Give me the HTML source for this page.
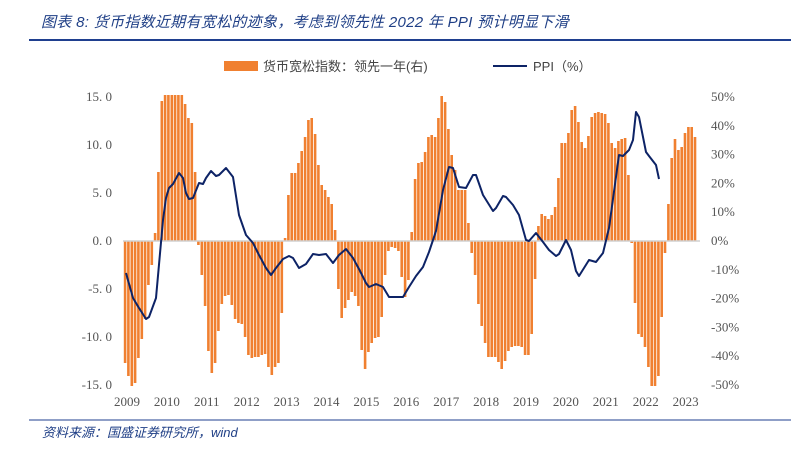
<!DOCTYPE html>
<html><head><meta charset="utf-8"><style>
body{margin:0;background:#fff;width:802px;height:451px;overflow:hidden}
svg{display:block}
</style></head><body>
<svg id="s" width="802" height="451" xmlns="http://www.w3.org/2000/svg">
<text x="41" y="27" font-family="Liberation Sans, Noto Sans CJK SC, sans-serif" font-size="15" font-style="italic" fill="#1f3f86" letter-spacing="0.3">图表 8:  货币指数近期有宽松的迹象，考虑到领先性 2022 年 PPI 预计明显下滑</text>
<rect x="29" y="39" width="762" height="2" fill="#1f3f8f"/>
<rect x="224" y="61" width="34" height="10" fill="#f08030"/>
<text x="263" y="71" font-family="Liberation Sans, Noto Sans CJK SC, sans-serif" font-size="13" fill="#444">货币宽松指数：领先一年(右)</text>
<line x1="493" y1="66" x2="527" y2="66" stroke="#0d2366" stroke-width="2"/>
<text x="533" y="71" font-family="Liberation Sans, Noto Sans CJK SC, sans-serif" font-size="13" fill="#444">PPI（%）</text>
<g id="bars" fill="#f08030"></g>
<line x1="123" y1="241" x2="700" y2="241" stroke="#d0d0d0" stroke-width="1.5"/>
<polyline id="ppi" fill="none" stroke="#0d2366" stroke-width="2" stroke-linejoin="round"/>
<g id="lab" font-family="Liberation Serif, serif" font-size="13" fill="#555"></g>
<line x1="29" y1="420" x2="791" y2="420" stroke="#1f3f8f" stroke-width="1"/>
<text x="42" y="437" font-family="Liberation Sans, Noto Sans CJK SC, sans-serif" font-size="13" font-style="italic" fill="#1f3f86">资料来源：国盛证券研究所，wind</text>
</svg>
<script>
var ys=[363,376,386,383,358,339,319,285,265,233,172,101,95,95,95,95,95,95,104,118,123,172,245,275,306,351,373,363,331,304,296,295,305,319,323,324,337,355,358,357,357,355,354,367,375,367,363,313,238,195,173,173,163,151,137,120,118,134,165,185,190,197,204,230,289,318,308,300,292,296,306,350,369,352,343,338,337,317,275,251,247,248,251,
277,297,280,232,179,163,162,152,137,135,137,118,96,102,129,155,170,190,190,190,223,253,275,304,326,343,357,357,357,362,369,361,351,347,346,346,347,355,355,334,279,226,214,216,219,215,207,178,143,143,133,110,106,122,142,148,136,117,113,112,113,114,123,143,148,141,139,138,175,243,303,334,337,347,367,386,386,376,317,253,204,158,139,150,147,133,127,127,137];
var b='';for(var i=0;i<ys.length;i++){var x=125+i*3.333,y=ys[i];var t=Math.min(y,241),h=Math.abs(y-241);b+='<rect x="'+(x-1.2).toFixed(1)+'" y="'+t+'" width="2.6" height="'+h+'"/>';}
document.getElementById('bars').innerHTML=b;
var p=[[126,273],[133,298],[139,308],[146,319],[149,317],[156,298],[163,220],[166,198],[169,188],[173,184],[179,173],[183,178],[186,193],[189,199],[193,198],[199,183],[203,184],[206,178],[211,171],[216,176],[219,175],[226,168],[233,177],[239,215],[246,235],[253,243],[259,255],[266,268],[271,275],[276,268],[283,259],[289,256],[293,258],[299,268],[306,264],[313,254],[319,255],[326,254],[333,263],[339,255],[346,249],[353,258],[359,269],[366,283],[369,287],[376,284],[383,287],[389,297],[403,297],[409,287],[416,276],[423,267],[429,252],[436,231],[443,190],[449,167],[453,168],[459,187],[466,188],[473,175],[476,175],[483,195],[493,211],[496,208],[503,196],[506,197],[513,205],[519,215],[526,240],[529,241],[536,233],[543,242],[549,250],[556,256],[559,254],[566,240],[571,250],[576,271],[579,276],[589,260],[596,262],[603,253],[609,228],[619,155],[623,156],[629,150],[633,140],[636,112],[639,117],[646,152],[649,156],[656,165],[659,179]];
document.getElementById('ppi').setAttribute('points',p.map(function(a){return a.join(',')}).join(' '));
var l='';var L=['15. 0','10. 0','5. 0','0. 0','-5. 0','-10. 0','-15. 0'];var R=['50%','40%','30%','20%','10%','0%','-10%','-20%','-30%','-40%','-50%'];
for(var i=0;i<7;i++)l+='<text x="112" y="'+(101+i*48)+'" text-anchor="end">'+L[i]+'</text>';
for(var i=0;i<11;i++)l+='<text x="711" y="'+(101+i*28.8).toFixed(1)+'">'+R[i]+'</text>';
for(var i=0;i<15;i++)l+='<text x="'+(127+i*39.9).toFixed(1)+'" y="406" text-anchor="middle">'+(2009+i)+'</text>';
document.getElementById('lab').innerHTML=l;
</script>
</body></html>
